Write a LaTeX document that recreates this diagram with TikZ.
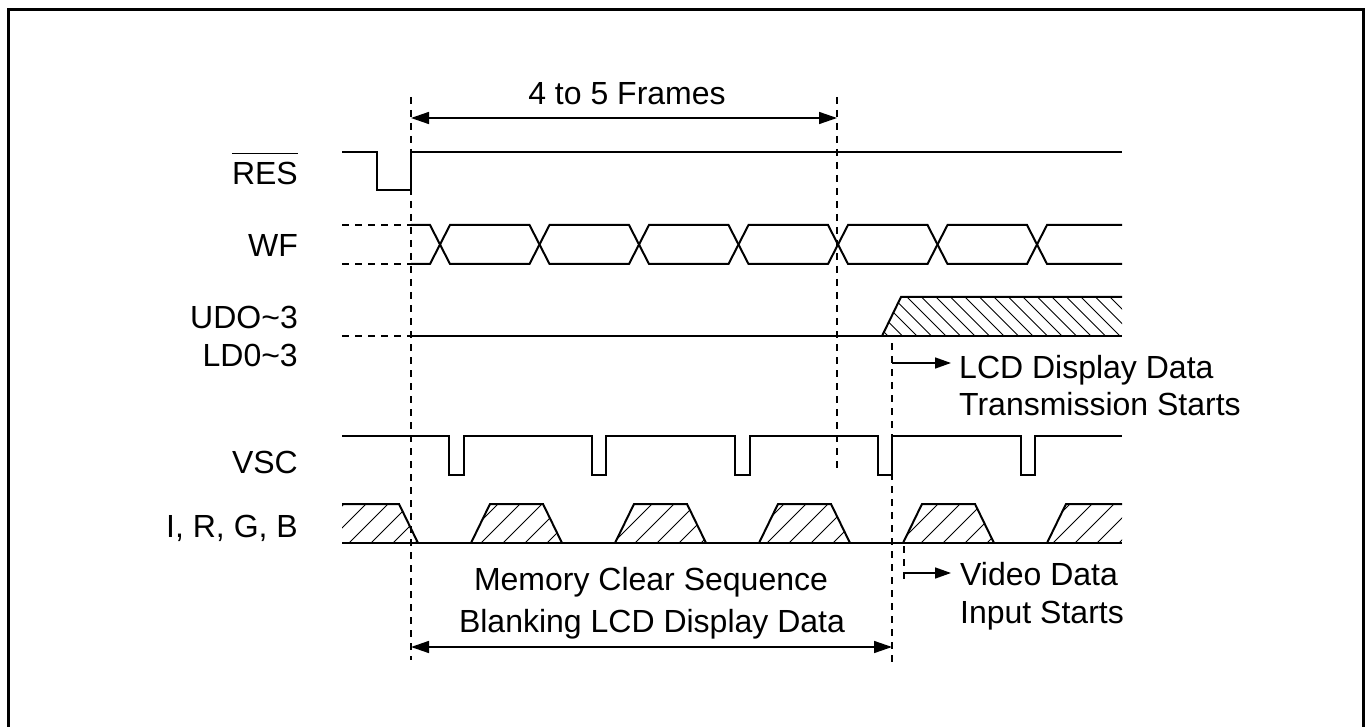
\documentclass[tikz,border=0pt]{standalone}
\usepackage{fontspec}
\setmainfont{Liberation Sans}
\usetikzlibrary{arrows.meta,calc}
\begin{document}
\begin{tikzpicture}[x=1pt,y=-1pt,
  sig/.style={line width=2pt, line join=miter},
  guide/.style={line width=1.1pt, dash pattern=on 7pt off 6pt},
  dim/.style={line width=1.5pt, {Triangle[length=18pt,width=12pt]}-{Triangle[length=18pt,width=12pt]}},
  pointer/.style={line width=1.5pt, -{Triangle[length=16pt,width=11pt]}},
  hatch/.style={line width=1pt},
  lbl/.style={font=\fontsize{32}{38}\selectfont, inner sep=0pt},
]
\useasboundingbox (0,0) rectangle (1368,727);
\draw[line width=3pt] (8.5,9.5) rectangle (1363.5,745);

% signal labels
\node[lbl, anchor=base east] (res) at (298,185) {RES};
\draw[line width=1.5pt] ($(res.north west)+(0,-9)$) -- ($(res.north east)+(0,-9)$);
\node[lbl, anchor=base east] (wf) at (298,257) {WF};
\node[lbl, anchor=base east] (ud) at (298,328) {UDO\char`\~3};
\node[lbl, anchor=base east] (ld) at (298,366) {LD0\char`\~3};
\node[lbl, anchor=base east] (vsc) at (298,473) {VSC};
\node[lbl, anchor=base east] (irgb) at (298,537) {I, R, G, B};

% RES
\draw[sig] (342,152) -- (377,152) -- (377,190) -- (411,190) -- (411,152) -- (1122,152);

% WF
\draw[guide] (342,225) -- (411,225);
\draw[guide] (342,264) -- (411,264);
\draw[sig] (411,225) -- (430,225) -- (450,264) -- (529.5,264) -- (549.5,225) -- (629,225) -- (649,264) -- (728.5,264) -- (748.5,225) -- (828,225) -- (848,264) -- (927.5,264) -- (947.5,225) -- (1027,225) -- (1047,264) -- (1122,264);
\draw[sig] (411,264) -- (430,264) -- (450,225) -- (529.5,225) -- (549.5,264) -- (629,264) -- (649,225) -- (728.5,225) -- (748.5,264) -- (828,264) -- (848,225) -- (927.5,225) -- (947.5,264) -- (1027,264) -- (1047,225) -- (1122,225);

% UD0~3 / LD0~3
\draw[guide] (342,336) -- (411,336);
\begin{scope}
  \clip (882,336) -- (901,297) -- (1122,297) -- (1122,336) -- cycle;
  \foreach \x in {834.5,849,...,1130} \draw[hatch] (\x,297) -- (\x+39,336);
\end{scope}
\draw[sig] (411,336) -- (1122,336);
\draw[sig] (882,336) -- (901,297) -- (1122,297);

% VSC
\draw[sig] (342,436) -- (449,436) -- (449,475) -- (464,475) -- (464,436)
  -- (592,436) -- (592,475) -- (606,475) -- (606,436)
  -- (735,436) -- (735,475) -- (750,475) -- (750,436)
  -- (878,436) -- (878,475) -- (892,475) -- (892,436)
  -- (1021,436) -- (1021,475) -- (1035,475) -- (1035,436) -- (1122,436);

% I, R, G, B
\begin{scope}
  \clip (342,543) -- (342,504) -- (399,504) -- (418,543) -- cycle
    (471,543) -- (490,504) -- (543,504) -- (562,543) -- cycle
    (615,543) -- (634,504) -- (687,504) -- (706,543) -- cycle
    (759,543) -- (778,504) -- (831,504) -- (850,543) -- cycle
    (903,543) -- (922,504) -- (975,504) -- (994,543) -- cycle
    (1047,543) -- (1066,504) -- (1122,504) -- (1122,543) -- cycle;
  \foreach \x in {283,305,...,1130} \draw[hatch] (\x,543) -- (\x+39,504);
\end{scope}
\draw[sig] (342,504) -- (399,504) -- (418,543);
\foreach \b in {471,615,759,903}
  \draw[sig] (\b,543) -- (\b+19,504) -- (\b+72,504) -- (\b+91,543);
\draw[sig] (1047,543) -- (1066,504) -- (1122,504);
\draw[sig] (342,543) -- (1122,543);

% guide lines
\coordinate (g1t) at (411,97);  \coordinate (g1b) at (411,660);
\coordinate (g2t) at (837,97);  \coordinate (g2b) at (837,472);
\coordinate (g3t) at (892,343); \coordinate (g3b) at (892,668);
\coordinate (g4t) at (904,546); \coordinate (g4b) at (904,579);
\draw[guide] (g1t) -- (g1b);
\draw[guide] (g2t) -- (g2b);
\draw[guide] (g3t) -- (g3b);
\draw[guide] (g4t) -- (g4b);

% dimension arrows
\coordinate (fA) at (411,118); \coordinate (fB) at (837,118);
\draw[dim] (fA) -- (fB);
\node[lbl, anchor=base] (frames) at (627,105) {4 to 5 Frames};

\coordinate (mA) at (411,647); \coordinate (mB) at (892,647);
\draw[dim] (mA) -- (mB);
\node[lbl, anchor=base] (mem1) at (651,590) {Memory Clear Sequence};
\node[lbl, anchor=base] (mem2) at (652,632) {Blanking LCD Display Data};

% pointers
\coordinate (lcdS) at (892,363); \coordinate (lcdE) at (951,363);
\draw[pointer] (lcdS) -- (lcdE);
\node[lbl, anchor=base west] (lcd1) at (959,378) {LCD Display Data};
\node[lbl, anchor=base west] (lcd2) at (959,415) {Transmission Starts};

\coordinate (vidS) at (904,573); \coordinate (vidE) at (951,573);
\draw[pointer] (vidS) -- (vidE);
\node[lbl, anchor=base west] (vid1) at (960,585) {Video Data};
\node[lbl, anchor=base west] (vid2) at (960,623) {Input Starts};
\end{tikzpicture}
\end{document}
